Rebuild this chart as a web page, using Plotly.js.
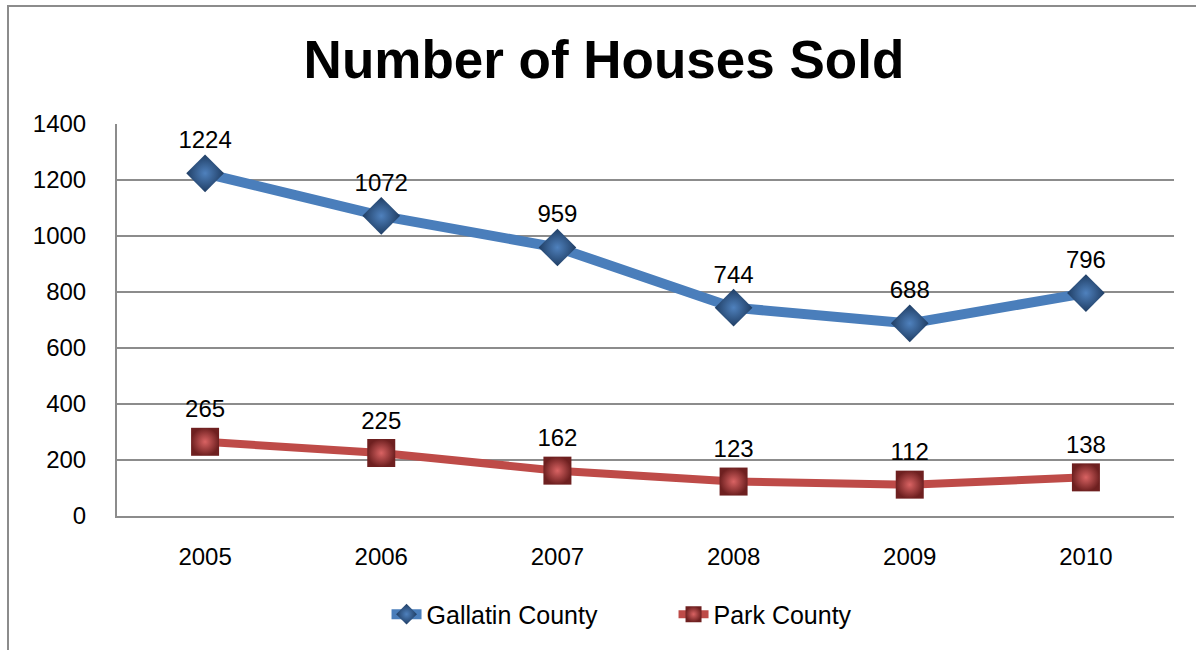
<!DOCTYPE html>
<html>
<head>
<meta charset="utf-8">
<script src="https://cdn.plot.ly/plotly-3.0.1.min.js"></script>
<style>
  html, body { margin: 0; padding: 0; background: #fff; }
  #wrap { position: relative; width: 1196px; height: 650px; overflow: hidden; }
  #chart { width: 1196px; height: 650px; }
  #frame { position: absolute; left: 7px; top: 5px; width: 1300px; height: 800px;
           border-left: 2px solid #8c8c8c; border-top: 2px solid #8c8c8c; pointer-events: none; }
</style>
</head>
<body>
<div id="wrap">
  <div id="chart"></div>
  <div id="frame"></div>
</div>
<script>
const years = ['2005', '2006', '2007', '2008', '2009', '2010'];
const gallatin = [1224, 1072, 959, 744, 688, 796];
const park = [265, 225, 162, 123, 112, 138];
const yTicks = [0, 200, 400, 600, 800, 1000, 1200, 1400];

const font = 'Arial, "Liberation Sans", sans-serif';

const traces = [
  {
    x: years, y: gallatin, name: 'Gallatin County', type: 'scatter', mode: 'lines+markers+text',
    text: gallatin.map(String), textposition: 'top center',
    textfont: { family: font, size: 24, color: '#000' },
    line: { color: '#4a7ebb', width: 10 },
    marker: { symbol: 'diamond', size: 29, color: '#1f3d63',
              gradient: { type: 'radial', color: '#4f81bd' }, line: { width: 0 } },
    cliponaxis: false
  },
  {
    x: years, y: park, name: 'Park County', type: 'scatter', mode: 'lines+markers+text',
    text: park.map(String), textposition: 'top center',
    textfont: { family: font, size: 24, color: '#000' },
    line: { color: '#be4b48', width: 8 },
    marker: { symbol: 'square', size: 28, color: '#6e2020',
              gradient: { type: 'radial', color: '#d96363' }, line: { width: 0 } },
    cliponaxis: false
  }
];

const layout = {
  width: 1196, height: 650,
  margin: { l: 117, r: 22, t: 124, b: 132 },
  paper_bgcolor: '#fff', plot_bgcolor: '#fff',
  showlegend: true,
  title: { text: '<b>Number of Houses Sold</b>', x: 0.505, xanchor: 'center', y: 0.908, yanchor: 'middle',
           font: { family: font, size: 53, color: '#000' } },
  xaxis: {
    type: 'category', range: [-0.5, 5.5], showgrid: false, zeroline: false,
    showline: true, linecolor: '#8c8c8c', linewidth: 2,
    ticks: '', ticklabelstandoff: 18,
    tickfont: { family: font, size: 24, color: '#000' }
  },
  yaxis: {
    range: [0, 1400], tickvals: yTicks, ticktext: yTicks.map(String),
    showgrid: true, gridcolor: '#8c8c8c', gridwidth: 2, zeroline: false,
    showline: true, linecolor: '#8c8c8c', linewidth: 2,
    ticks: '', ticklabelstandoff: 24,
    tickfont: { family: font, size: 24, color: '#000' }
  },
  legend: {
    orientation: 'h', x: 0.255, xanchor: 'left', y: -0.251, yanchor: 'middle',
    font: { family: font, size: 25, color: '#000' }, itemwidth: 30,
    entrywidth: 242, entrywidthmode: 'pixels',
    bgcolor: 'rgba(0,0,0,0)'
  }
};

Plotly.newPlot('chart', traces, layout, { displayModeBar: false, staticPlot: true });
</script>
</body>
</html>
